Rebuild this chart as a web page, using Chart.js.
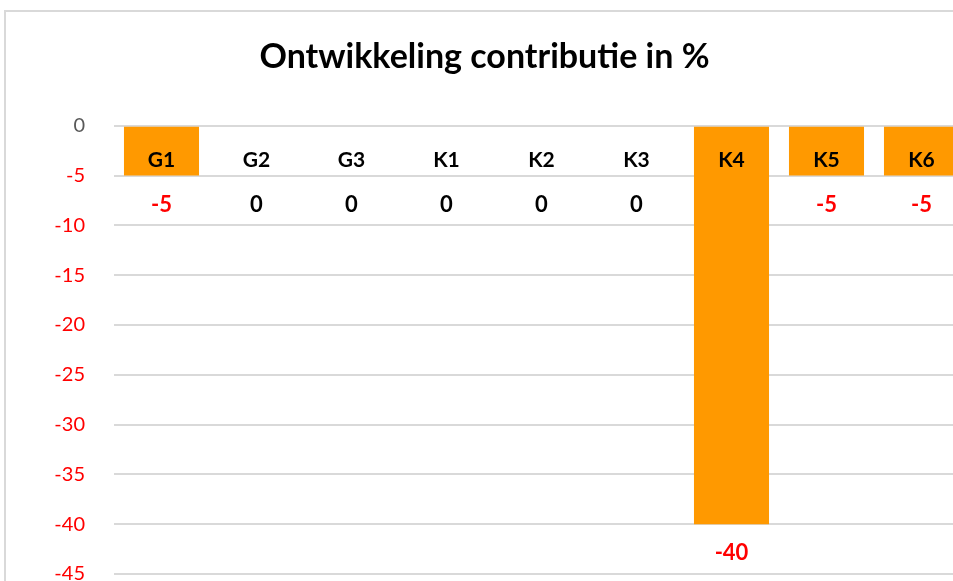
<!DOCTYPE html>
<html>
<head>
<meta charset="utf-8">
<script src="https://cdn.jsdelivr.net/npm/chart.js@4/dist/chart.umd.min.js"></script>
<style>
  html, body { margin: 0; padding: 0; background: #fff; overflow: hidden; width: 953px; height: 581px; }
  #frame { position: absolute; left: 4px; top: 10px; width: 980px; height: 620px;
           border-left: 2px solid #D9D9D9; border-top: 2px solid #D9D9D9; }
  #wrap { position: absolute; left: 0; top: 0; width: 975px; height: 615px; }
</style>
</head>
<body>
<div id="frame"></div>
<div id="wrap"><canvas id="myChart" width="975" height="615"></canvas></div>
<script>
var categories = ['G1', 'G2', 'G3', 'K1', 'K2', 'K3', 'K4', 'K5', 'K6'];
var values = [-5, 0, 0, 0, 0, 0, -40, -5, -5];
var yTicks = [0, -5, -10, -15, -20, -25, -30, -35, -40, -45];

// category names inside the bars and value labels under them
var labelPlugin = {
  id: 'barLabels',
  afterDatasetsDraw: function (chart) {
    var c = chart.ctx;
    var y = chart.scales.y;
    var meta = chart.getDatasetMeta(0);
    c.save();
    c.textAlign = 'center';
    c.textBaseline = 'middle';
    meta.data.forEach(function (bar, i) {
      var v = values[i];
      c.fillStyle = '#000';
      c.font = 'bold 21px Lato';
      c.fillText(categories[i], bar.x, y.getPixelForValue(0) + 34);
      c.fillStyle = v < 0 ? '#FF0000' : '#000';
      c.font = 'bold 22px Lato';
      c.fillText(String(v), bar.x, y.getPixelForValue(Math.min(v, -5)) + 29);
    });
    c.restore();
  }
};

var ctx = document.getElementById('myChart').getContext('2d');
var chart = new Chart(ctx, {
  type: 'bar',
  data: {
    labels: categories,
    datasets: [
      {
        data: values,
        backgroundColor: '#FF9900',
        borderWidth: 0,
        barPercentage: 0.79,
        categoryPercentage: 1,
      },
    ]
  },
  options: {
    responsive: false,
    maintainAspectRatio: false,
    animation: false,
    layout: { padding: { left: 0, right: 6, top: 0, bottom: 0 } },
    plugins: {
      legend: { display: false },
      tooltip: { enabled: false },
      title: {
        display: true,
        text: 'Ontwikkeling contributie in %',
        color: '#000',
        font: { family: 'Lato', size: 34, weight: 'bold' },
        padding: { top: 37, bottom: 48 },
      },
    },
    scales: {
      x: { display: false },
      y: {
        min: -45,
        max: 0,
        afterFit: function (scale) { scale.width = 114; },
        afterBuildTicks: function (scale) {
          scale.ticks = yTicks.map(function (t) { return { value: t }; });
        },
        border: { display: false },
        grid: { color: '#D9D9D9', lineWidth: 2, drawTicks: false },
        ticks: {
          padding: 29,
          font: { family: 'Lato', size: 20 },
          color: function (c) { return c.tick.value < 0 ? '#FF0000' : '#595959'; },
        },
      },
    },
  },
  plugins: [labelPlugin],
});
</script>
</body>
</html>
